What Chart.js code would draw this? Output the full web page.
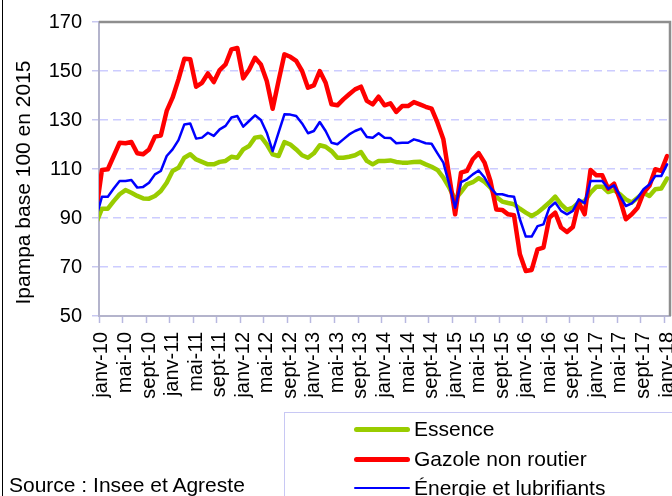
<!DOCTYPE html>
<html>
<head>
<meta charset="utf-8">
<script src="https://cdn.jsdelivr.net/npm/chart.js@4.4.1/dist/chart.umd.min.js"></script>
<style>
  html, body { margin: 0; padding: 0; background: #fff; }
  #wrap { position: relative; width: 672px; height: 496px; overflow: hidden; background: #fff; }
  #c { position: absolute; left: 0; top: 0; }
  .frame { position: absolute; left: 2px; top: 0; width: 1px; height: 496px; background: #000; }
  .legend { position: absolute; left: 284px; top: 412px; width: 420px; height: 120px;
            border-left: 1px solid #C8C8F4; border-top: 1px solid #C8C8F4; }
  .sample { position: absolute; left: 69px; width: 56px; border-radius: 3px; }
  .ltext { position: absolute; left: 129px; font-family: "Liberation Sans", Arial, sans-serif;
           font-size: 21px; line-height: 24px; color: #000; white-space: nowrap; }
  .source { position: absolute; left: 9px; top: 473px; font-family: "Liberation Sans", Arial, sans-serif;
            font-size: 21px; line-height: 24px; color: #000; white-space: nowrap; }
</style>
</head>
<body>
<div id="wrap">
  <canvas id="c" width="672" height="496"></canvas>
  <div class="frame"></div>
  <div class="legend">
    <div class="sample" style="top:13.5px;height:5px;background:#99CC00"></div>
    <div class="ltext" style="top:4px">Essence</div>
    <div class="sample" style="top:43.5px;height:5px;background:#FF0000"></div>
    <div class="ltext" style="top:34px">Gazole non routier</div>
    <div class="sample" style="top:73.5px;height:2.5px;background:#0000FF"></div>
    <div class="ltext" style="top:63px">Énergie et lubrifiants</div>
  </div>
  <div class="source">Source : Insee et Agreste</div>
</div>
<script>
// Category labels: one leading month (déc-09) whose segment is partly visible at the left edge
const monthNames = ['janv','févr','mars','avr','mai','juin','juil','août','sept','oct','nov','déc'];
const months = ['déc-09'];
for (let y = 10; y <= 18; y++) {
  for (let m = 0; m < 12; m++) {
    if (y === 18 && m > 0) break;
    months.push(monthNames[m] + '-' + y);
  }
}

const yTicks = [50, 70, 90, 110, 130, 150, 170];
const yTitle = 'Ipampa base 100 en 2015';

const essence = [87.8,
  93.8, 93.8, 96.9, 99.7, 101.4, 100.3, 99, 98, 97.9, 99,
  101, 104.4, 109.2, 110.5, 114.6, 116, 113.9, 112.9, 111.9, 111.9,
  112.9, 113.3, 115, 114.6, 118, 119.4, 122.8, 123.2, 120.1, 116,
  115.3, 121, 120, 118, 115.6, 114.6, 116.4, 119.7, 119.1, 117.3,
  114.6, 114.6, 115, 115.6, 116.9, 113.3, 111.9, 113.3, 113.3, 113.5,
  112.9, 112.6, 112.6, 112.9, 113, 111.9, 110.9, 109.6, 106.5, 102.4,
  97.6, 100.6, 103.7, 104.6, 106.3, 104.7, 102.4, 98.6, 96.7, 96.1,
  95.6, 93.8, 92.2, 90.8, 92.2, 94.2, 96.3, 98.7, 95.6, 93.3,
  94.2, 96.3, 96.9, 100.3, 102.8, 102.8, 100.6, 101.4, 99.7, 97.6,
  96.3, 98.3, 100.3, 99, 101.7, 102, 106.1];

const gazole = [92.4,
  109.6, 109.9, 115.3, 120.7, 120.5, 121, 116.4, 116, 118, 123.2,
  123.7, 133.7, 139.1, 146.6, 155, 154.8, 143.6, 145.2, 149, 145.5,
  150.4, 152.7, 158.8, 159.4, 147, 150.5, 155.4, 152.7, 145.9, 134.6,
  145.9, 156.8, 155.8, 154.1, 150, 143.2, 144.1, 150, 145.2, 136.4,
  136, 138.4, 140.5, 142.5, 143.6, 137.8, 136.4, 139.5, 136, 136.8,
  133.3, 135.7, 135.7, 137.3, 136.4, 135.4, 134.6, 128.9, 122.1, 107,
  91.5, 108.5, 109.2, 114, 116.5, 112.6, 105.1, 93.5, 93.3, 91.5,
  91.1, 75.2, 68.4, 68.8, 77.2, 77.9, 90.1, 92.2, 86.1, 84.3,
  86.3, 96.3, 91.5, 109.6, 107.4, 107.4, 102, 104, 97.6, 89.5,
  91.5, 94.2, 100.3, 103.1, 109.9, 109.2, 115.3];

const energie = [90,
  98.7, 98.7, 102, 105.1, 105.1, 105.5, 102.4, 102.7, 104.4, 107.8,
  109.2, 115.3, 118, 121.8, 128.2, 128.6, 122.4, 122.8, 124.8, 123.5,
  126.2, 127.6, 131, 131.6, 127.3, 129.6, 131.9, 130, 124.8, 117.3,
  124.8, 132.3, 132.2, 131.6, 128.6, 124.6, 125.5, 129.2, 125.5, 120.7,
  120.1, 122.1, 124.1, 125.5, 126.5, 123.1, 122.8, 124.6, 122.8, 122.7,
  120.5, 120.7, 120.7, 122.1, 121.4, 120.5, 120.3, 116.4, 112.6, 103.7,
  94.2, 104.6, 105.8, 107.8, 109.4, 106.5, 102.4, 99.7, 99.7, 99,
  98.7, 89.5, 82.4, 82.4, 86.7, 87.4, 94.2, 96.3, 92.9, 91.5,
  92.9, 97.6, 96, 105.1, 105.1, 105.1, 102, 103.3, 99, 94.9,
  96, 98.3, 101.7, 103.7, 107.1, 107.1, 111.9];

const FONT = '"Liberation Sans", Arial, sans-serif';

const decorPlugin = {
  id: 'decor',
  afterDatasetsDraw(chart) {
    const { ctx, chartArea: a } = chart;
    ctx.save();
    ctx.strokeStyle = '#8E8E8E';
    ctx.lineWidth = 2.5;
    ctx.beginPath();
    ctx.moveTo(a.left, a.top);
    ctx.lineTo(a.right, a.top);
    ctx.lineTo(a.right, a.bottom);
    ctx.stroke();
    ctx.restore();
  },
  afterDraw(chart) {
    const { ctx } = chart;
    ctx.save();
    ctx.translate(30, 182.5);
    ctx.rotate(-Math.PI / 2);
    ctx.font = '21px ' + FONT;
    ctx.fillStyle = '#000';
    ctx.textAlign = 'center';
    ctx.textBaseline = 'alphabetic';
    ctx.fillText(yTitle, 0, 0);
    ctx.restore();
  }
};

const common = { pointRadius: 0, fill: false, tension: 0, clip: 0,
                 borderJoinStyle: 'round', borderCapStyle: 'round' };

new Chart(document.getElementById('c'), {
  type: 'line',
  data: {
    labels: months,
    datasets: [
      Object.assign({ label: 'Essence', data: essence, borderColor: '#99CC00', borderWidth: 4.5, order: 3 }, common),
      Object.assign({ label: 'Gazole non routier', data: gazole, borderColor: '#FF0000', borderWidth: 4.5, order: 2 }, common),
      Object.assign({ label: 'Énergie et lubrifiants', data: energie, borderColor: '#0000FF', borderWidth: 2.5, order: 1 }, common)
    ]
  },
  options: {
    responsive: false,
    animation: false,
    events: [],
    layout: { padding: { top: 22, right: 2, left: 0, bottom: 0 } },
    plugins: { legend: { display: false }, tooltip: { enabled: false }, title: { display: false } },
    scales: {
      x: {
        type: 'category',
        min: 'janv-10',
        offset: true,
        grid: {
          offset: true,
          drawOnChartArea: false,
          tickLength: 7,
          tickWidth: 1.5,
          tickColor: c => (c.index % 4 === 0 ? '#B8B8E0' : 'rgba(0,0,0,0)')
        },
        border: { color: '#B4B4CC', width: 2 },
        ticks: {
          autoSkip: false,
          minRotation: 90,
          maxRotation: 90,
          padding: 9,
          color: '#000',
          font: { family: FONT, size: 20 },
          callback: function (v, i) { return i % 4 === 0 ? this.getLabelForValue(v) : ''; }
        },
        afterFit: s => { s.height = 180; s.paddingLeft = 0; s.paddingRight = 0; }
      },
      y: {
        min: 50,
        max: 170,
        afterBuildTicks: s => { s.ticks = yTicks.map(v => ({ value: v })); },
        grid: { color: '#CCCCFF', lineWidth: 1.5, tickLength: 7, tickColor: '#C8C8F0' },
        border: { color: '#B4B4CC', width: 2, dash: [8, 5] },
        ticks: { padding: 10, color: '#000', font: { family: FONT, size: 20 } },
        afterFit: s => { s.width = 99; s.paddingTop = 0; s.paddingBottom = 0; }
      }
    }
  },
  plugins: [decorPlugin]
});
</script>
</body>
</html>
